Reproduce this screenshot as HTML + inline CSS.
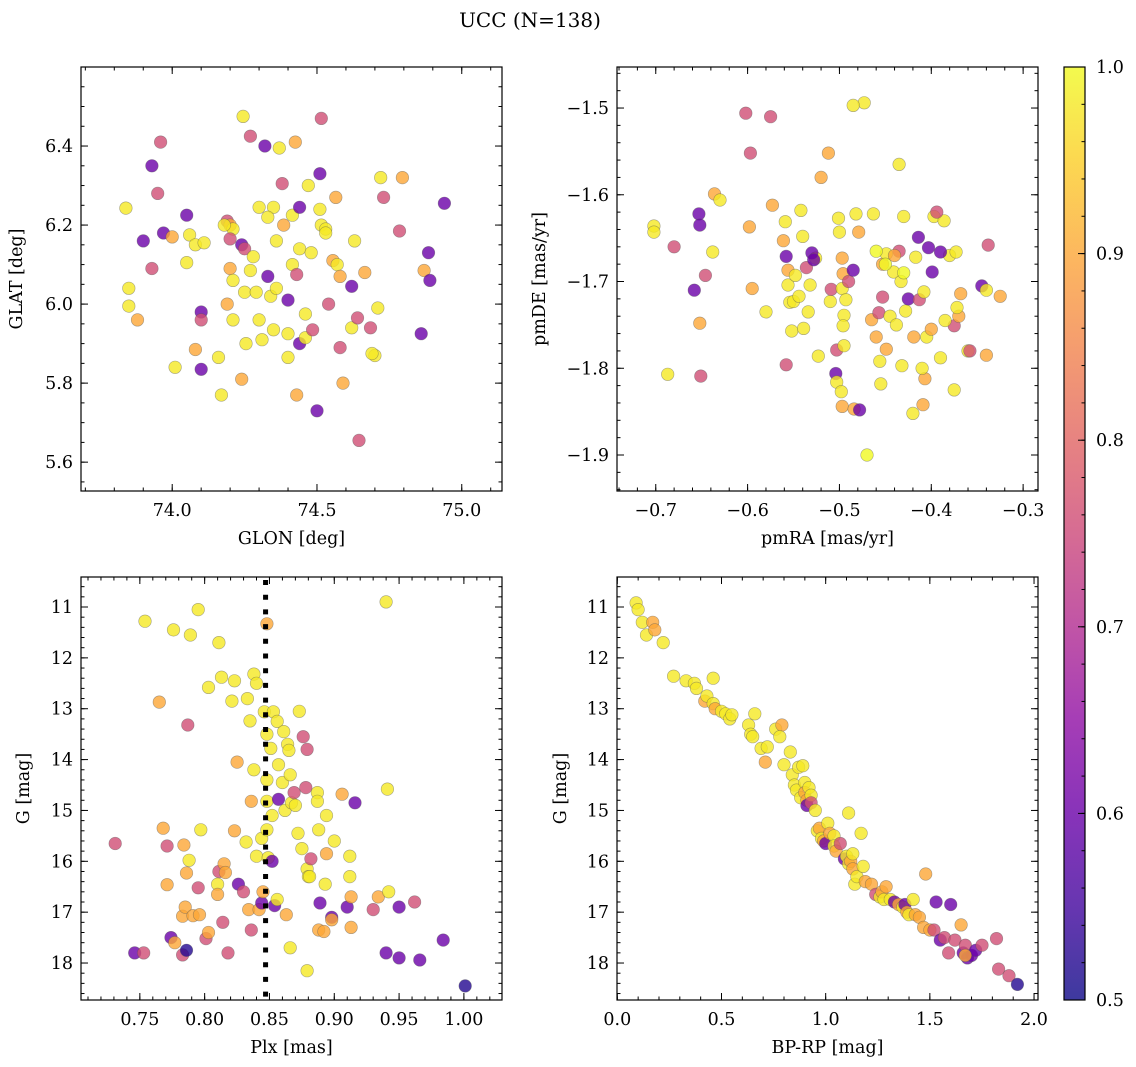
<!DOCTYPE html>
<html><head><meta charset="utf-8">
<style>
html,body{margin:0;padding:0;background:#fff;}
svg{display:block;font-family:"DejaVu Serif","Liberation Serif",serif;}
</style></head>
<body>
<svg id="fig" width="1136" height="1067" viewBox="0 0 1136 1067" xmlns="http://www.w3.org/2000/svg">
<defs>
<linearGradient id="plasma" x1="0" y1="1" x2="0" y2="0">
<stop offset="0" stop-color="#0d0887"/><stop offset="0.1" stop-color="#41049d"/><stop offset="0.2" stop-color="#6a00a8"/><stop offset="0.3" stop-color="#8f0da4"/><stop offset="0.4" stop-color="#b12a90"/><stop offset="0.5" stop-color="#cc4778"/><stop offset="0.6" stop-color="#e16462"/><stop offset="0.7" stop-color="#f2844b"/><stop offset="0.8" stop-color="#fca636"/><stop offset="0.9" stop-color="#fcce25"/><stop offset="1" stop-color="#f0f921"/>
</linearGradient>
</defs>
<text x="530" y="27" font-size="20" text-anchor="middle">UCC (N=138)</text>
<g id="root"></g>
</svg>
<script>
// probability classes: Y=yellow, O=orange, K=pink, P=purple, D=dark
const probClass = {Y:0.98, O:0.9, K:0.76, P:0.6, D:0.52};

// Panel 1: GLON / GLAT
const p1Glon = [73.84,73.85,73.85,73.88,73.9,73.93,73.93,73.95,73.96,73.97,74.0,74.01,74.05,74.05,74.06,74.08,74.08,74.1,74.1,74.1,74.11,74.16,74.17,74.19,74.19,74.2,74.21,74.2,74.2,74.21,74.21,74.24,74.24,74.245,74.25,74.25,74.255,74.27,74.27,74.28,74.29,74.3,74.31,74.32,74.33,74.34,74.35,74.35,74.36,74.37,74.38,74.385,74.4,74.4,74.4,74.415,74.415,74.425,74.43,74.43,74.44,74.44,74.44,74.46,74.48,74.46,74.47,74.485,74.5,74.51,74.515,74.51,74.515,74.53,74.54,74.555,74.57,74.58,74.59,74.62,74.62,74.63,74.64,74.645,74.665,74.685,74.7,74.72,74.73,74.785,74.795,74.86,74.87,74.885,74.89,74.94,74.565,74.69,74.71,74.58,74.33,74.3,74.18,74.53,74.36];
const p1Glat = [6.243,6.04,5.995,5.96,6.16,6.09,6.35,6.28,6.41,6.18,6.17,5.84,6.225,6.105,6.175,6.15,5.885,5.98,5.96,5.835,6.155,5.865,5.77,6.0,6.21,6.2,6.19,6.165,6.09,6.06,5.96,6.15,5.81,6.475,6.14,6.03,5.9,6.425,6.085,6.12,6.03,5.96,5.91,6.4,6.07,6.02,5.935,6.245,6.16,6.395,6.305,6.2,6.01,5.925,5.865,6.1,6.225,6.41,5.77,6.075,6.14,6.245,5.9,5.975,6.13,5.915,6.3,5.935,5.73,6.24,6.47,6.33,6.2,6.19,6.0,6.11,6.1,6.07,5.8,5.94,6.045,6.16,5.965,5.655,6.08,5.94,5.87,6.32,6.27,6.185,6.32,5.925,6.085,6.13,6.06,6.255,6.27,5.875,5.99,5.89,6.22,6.245,6.2,6.18,6.04];
const p1Class = "YYYOPKPKKPOYPYYYOPKPYYYOKOYKOYYPOYKYYKYYYYYPPYYYYYKOPYYYYOOKYPPYYYYKPYKPYYKOYOOYPYKKOKYYKKOPOPPPOYYKYYYYY";

// Panel 2: pmRA / pmDE
const p2Pmra = [-0.702,-0.702,-0.687,-0.68,-0.658,-0.653,-0.652,-0.652,-0.651,-0.646,-0.638,-0.636,-0.63,-0.602,-0.597,-0.598,-0.595,-0.58,-0.575,-0.573,-0.561,-0.559,-0.558,-0.556,-0.556,-0.554,-0.552,-0.558,-0.55,-0.548,-0.544,-0.542,-0.54,-0.536,-0.539,-0.534,-0.532,-0.523,-0.526,-0.53,-0.528,-0.52,-0.512,-0.51,-0.509,-0.503,-0.504,-0.503,-0.501,-0.5,-0.497,-0.497,-0.495,-0.496,-0.495,-0.496,-0.497,-0.498,-0.493,-0.49,-0.485,-0.484,-0.482,-0.479,-0.478,-0.473,-0.485,-0.465,-0.463,-0.46,-0.457,-0.456,-0.455,-0.453,-0.453,-0.449,-0.445,-0.449,-0.441,-0.438,-0.433,-0.432,-0.428,-0.425,-0.419,-0.417,-0.414,-0.413,-0.408,-0.407,-0.405,-0.403,-0.399,-0.397,-0.435,-0.43,-0.386,-0.375,-0.368,-0.38,-0.394,-0.39,-0.373,-0.42,-0.409,-0.37,-0.372,-0.375,-0.4,-0.39,-0.385,-0.41,-0.36,-0.358,-0.345,-0.34,-0.338,-0.34,-0.325,-0.435,-0.44,-0.43,-0.46,-0.47,-0.45];
const p2Pmde = [-1.636,-1.643,-1.807,-1.66,-1.71,-1.622,-1.635,-1.748,-1.809,-1.693,-1.666,-1.599,-1.606,-1.506,-1.552,-1.637,-1.708,-1.735,-1.51,-1.612,-1.653,-1.631,-1.671,-1.687,-1.704,-1.724,-1.757,-1.796,-1.723,-1.693,-1.717,-1.618,-1.648,-1.684,-1.754,-1.735,-1.704,-1.786,-1.673,-1.667,-1.675,-1.58,-1.552,-1.723,-1.709,-1.779,-1.806,-1.816,-1.627,-1.643,-1.673,-1.708,-1.739,-1.751,-1.774,-1.691,-1.844,-1.827,-1.721,-1.7,-1.687,-1.847,-1.622,-1.643,-1.848,-1.494,-1.497,-1.744,-1.622,-1.764,-1.736,-1.792,-1.818,-1.68,-1.718,-1.778,-1.74,-1.668,-1.689,-1.75,-1.7,-1.797,-1.734,-1.72,-1.764,-1.672,-1.649,-1.721,-1.712,-1.812,-1.764,-1.661,-1.689,-1.625,-1.565,-1.625,-1.63,-1.751,-1.714,-1.67,-1.62,-1.666,-1.666,-1.852,-1.842,-1.74,-1.73,-1.825,-1.755,-1.788,-1.745,-1.8,-1.78,-1.78,-1.705,-1.785,-1.658,-1.71,-1.717,-1.665,-1.67,-1.69,-1.665,-1.9,-1.68];
const p2Class = "YYYKPPPOKKYOYKKOOYKOOYPOYYYKYYYYYKYYYYYPPOOYKKPYYYOYYYYOOYYKPOYOPYYOYOKYYOKOYYYYYYYPOYPKYOYPPYYYYKOYKPYYOOYYOYYYYKPOKYOKO";

// Panel 3: Plx / G
const p3Plx = [0.731,0.746,0.753,0.754,0.765,0.768,0.771,0.771,0.774,0.776,0.777,0.783,0.783,0.786,0.784,0.785,0.786,0.787,0.788,0.789,0.791,0.795,0.795,0.796,0.797,0.801,0.803,0.803,0.811,0.81,0.81,0.811,0.813,0.814,0.815,0.816,0.818,0.821,0.823,0.823,0.825,0.826,0.83,0.834,0.832,0.833,0.835,0.836,0.836,0.838,0.838,0.84,0.84,0.842,0.844,0.844,0.845,0.848,0.846,0.848,0.848,0.848,0.848,0.849,0.851,0.852,0.852,0.853,0.854,0.856,0.856,0.857,0.857,0.86,0.861,0.862,0.863,0.864,0.865,0.866,0.867,0.866,0.869,0.87,0.872,0.873,0.875,0.876,0.878,0.879,0.879,0.879,0.88,0.881,0.882,0.889,0.888,0.887,0.887,0.888,0.892,0.894,0.893,0.894,0.898,0.898,0.9,0.906,0.91,0.912,0.912,0.913,0.913,0.916,0.93,0.934,0.94,0.941,0.942,0.95,0.95,0.94,0.962,0.966,0.984,1.001];
const p3G = [15.65,17.8,17.8,11.28,12.87,15.35,15.7,16.46,17.5,11.45,17.6,17.84,17.08,16.23,15.68,16.9,17.75,13.32,15.98,11.55,17.07,11.05,16.52,17.05,15.38,17.52,12.58,17.4,16.2,16.45,16.65,11.7,12.38,17.2,16.05,16.22,17.8,12.85,12.45,15.4,14.05,16.45,16.6,16.95,15.62,12.8,13.24,14.82,17.35,12.32,14.2,12.5,15.9,16.95,16.82,15.55,16.6,11.33,13.06,13.5,14.4,15.38,14.82,15.93,13.78,16.0,15.1,13.06,16.87,16.75,13.25,14.1,14.78,14.45,13.45,15.0,17.05,13.7,13.82,14.3,14.85,17.7,14.65,14.9,15.45,13.05,15.75,13.55,14.55,18.15,13.8,16.15,16.3,16.3,15.95,16.82,15.38,14.65,14.82,17.35,17.38,15.1,16.45,15.85,17.1,17.15,15.6,14.68,16.9,15.9,16.3,17.3,16.7,14.85,16.95,16.7,17.8,14.58,16.6,16.9,17.9,10.9,16.8,17.94,17.55,18.45];
const p3Class = "KPKYOOKOPYOKOOOODKYYOYKOYKYOKYOYYKOOKYYOOPKOYYYOKYYYYOPYOOYYYYYYYPYYPYYYPYYYOYYYYYKYYYYKKYKYYYKPYYYOOYYOPOYOPYYOOPKOPYYPPYKPPD";
const cutPlx = 0.847;

// Panel 4: BP-RP / G
const p4Bprp = [0.09,0.1,0.12,0.14,0.17,0.18,0.22,0.27,0.33,0.37,0.38,0.42,0.43,0.46,0.46,0.47,0.5,0.52,0.54,0.55,0.63,0.64,0.65,0.66,0.69,0.71,0.72,0.76,0.79,0.78,0.8,0.83,0.84,0.85,0.86,0.88,0.87,0.89,0.9,0.9,0.91,0.91,0.92,0.93,0.93,0.95,0.96,0.97,0.98,0.99,1.0,1.01,1.02,1.04,1.04,1.05,1.07,1.09,1.1,1.11,1.11,1.12,1.13,1.13,1.14,1.15,1.17,1.18,1.19,1.22,1.24,1.26,1.27,1.28,1.29,1.31,1.33,1.35,1.37,1.38,1.39,1.4,1.42,1.43,1.45,1.47,1.48,1.5,1.52,1.53,1.55,1.57,1.59,1.6,1.62,1.65,1.66,1.67,1.68,1.7,1.72,1.75,1.82,1.83,1.88,1.92,1.67];
const p4G = [10.92,11.05,11.3,11.55,11.3,11.45,11.7,12.36,12.45,12.5,12.6,12.85,12.75,12.9,12.4,13.0,13.05,13.1,13.2,13.12,13.32,13.5,13.55,13.1,13.78,14.05,13.75,13.4,13.32,13.55,14.1,13.85,14.3,14.5,14.6,14.75,14.15,14.12,14.45,14.65,14.8,14.9,14.55,14.7,14.85,15.0,15.4,15.35,15.55,15.6,15.65,15.25,15.45,15.5,15.7,15.8,15.65,15.95,15.9,15.05,16.05,16.0,15.85,16.15,16.45,16.3,15.45,16.1,16.4,16.45,16.65,16.7,16.6,16.75,16.5,16.75,16.8,16.85,16.9,16.85,17.0,17.05,16.75,17.05,17.1,17.3,16.25,17.35,17.35,16.8,17.55,17.5,17.8,16.85,17.55,17.25,17.8,17.65,17.9,17.85,17.75,17.65,17.52,18.12,18.25,18.42,17.85];
const p4Class = "YYYYOOYYYYYOYYYOYYYYYYYYYOYYOYYYYYYYYYYOOPYYKYYOYOPYOYYOKPYYYOYOYYYYOOKYOYOYPOYPOYYOOOOOKPPKKPKOPKPPPKKKKDO";

const NS = "http://www.w3.org/2000/svg";
const root = document.getElementById('root');
const FS = 17.5;
function mk(tag, attrs, parent) {
  const e = document.createElementNS(NS, tag);
  for (const k in attrs) e.setAttribute(k, attrs[k]);
  (parent || root).appendChild(e);
  return e;
}
const stops = [[0,"#0d0887"],[0.1,"#41049d"],[0.2,"#6a00a8"],[0.3,"#8f0da4"],[0.4,"#b12a90"],[0.5,"#cc4778"],[0.6,"#e16462"],[0.7,"#f2844b"],[0.8,"#fca636"],[0.9,"#fcce25"],[1,"#f0f921"]];
function hex(h){return [1,3,5].map(i=>parseInt(h.substr(i,2),16));}
function plasma(p) {
  let t = Math.max(0, Math.min(1, (p - 0.5) / 0.5));
  for (let i = 1; i < stops.length; i++) {
    if (t <= stops[i][0]) {
      const a = stops[i-1], b = stops[i];
      const f = (t - a[0]) / (b[0] - a[0]);
      const ca = hex(a[1]), cb = hex(b[1]);
      return 'rgb(' + ca.map((v,j)=>Math.round(v + (cb[j]-v)*f)).join(',') + ')';
    }
  }
  return stops[stops.length-1][1];
}
function fmt(v, d) { const s = Math.abs(v).toFixed(d); return (v < -1e-9 ? '\u2212' : '') + s; }

function panel(cfg) {
  const g = mk('g', {});
  
  
  const {L, R, T, B} = cfg;
  const sx = v => L + (v - cfg.xd[0]) / (cfg.xd[1] - cfg.xd[0]) * (R - L);
  const sy = v => cfg.yinv ? T + (v - cfg.yd[0]) / (cfg.yd[1] - cfg.yd[0]) * (B - T)
                           : B - (v - cfg.yd[0]) / (cfg.yd[1] - cfg.yd[0]) * (B - T);
  const pts = mk('g', {}, g);
  
  
  for (let i = 0; i < cfg.x.length; i++) {
    const c = mk('circle', {cx: sx(cfg.x[i]).toFixed(1), cy: sy(cfg.y[i]).toFixed(1), r: 6.3,
      fill: plasma(probClass[cfg.cls[i]]), 'fill-opacity': 0.8, stroke: '#555', 'stroke-opacity': 0.5, 'stroke-width': 0.6}, pts);
    
    
  }
  if (cfg.extra) cfg.extra(g, sx, sy);
  const fr = mk('rect', {x: L, y: T, width: R - L, height: B - T, fill: 'none', stroke: '#000', 'stroke-width': 1.2}, g);
  
  
  const tk = mk('g', {stroke: '#000', 'stroke-width': 1}, g);
  
  
  function ticks(min, max, step) { const a = []; const n0 = Math.ceil(min/step - 1e-6), n1 = Math.floor(max/step + 1e-6); for (let n = n0; n <= n1; n++) a.push(n*step); return a; }
  ticks(cfg.xd[0], cfg.xd[1], cfg.xminor).forEach(v => { const x = sx(v); mk('line', {x1:x, x2:x, y1:B, y2:B-3.5}, tk); mk('line', {x1:x, x2:x, y1:T, y2:T+3.5}, tk); });
  ticks(Math.min(...cfg.yd), Math.max(...cfg.yd), cfg.yminor).forEach(v => { const y = sy(v); mk('line', {x1:L, x2:L+3.5, y1:y, y2:y}, tk); mk('line', {x1:R, x2:R-3.5, y1:y, y2:y}, tk); });
  cfg.xticks.forEach(v => {
    const x = sx(v);
    mk('line', {x1:x, x2:x, y1:B, y2:B-7}, tk); mk('line', {x1:x, x2:x, y1:T, y2:T+7}, tk);
    const t = mk('text', {x: x, y: B + 25, 'font-size': FS, 'text-anchor': 'middle'}, g);
    t.textContent = fmt(v, cfg.xdec);
    
    
  });
  cfg.yticks.forEach(v => {
    const y = sy(v);
    mk('line', {x1:L, x2:L+7, y1:y, y2:y}, tk); mk('line', {x1:R, x2:R-7, y1:y, y2:y}, tk);
    const t = mk('text', {x: L - 8, y: y + 6, 'font-size': FS, 'text-anchor': 'end'}, g);
    t.textContent = fmt(v, cfg.ydec);
    
    
  });
  const xl = mk('text', {x: (L+R)/2, y: B + 53, 'font-size': FS, 'text-anchor': 'middle'}, g);
  xl.textContent = cfg.xlabel;
  
  
  const yx = cfg.ylabx, yy = (T+B)/2;
  const yl = mk('text', {x: yx, y: yy, 'font-size': FS, 'text-anchor': 'middle', transform: `rotate(-90 ${yx} ${yy})`}, g);
  yl.textContent = cfg.ylabel;
  
  
}

panel({name:'panel-glon-glat', L:81, R:502, T:67, B:491, xd:[73.685,75.139], yd:[5.527,6.6],
  x:p1Glon, y:p1Glat, cls:p1Class, xticks:[74.0,74.5,75.0], xdec:1, xminor:0.1,
  yticks:[5.6,5.8,6.0,6.2,6.4], ydec:1, yminor:0.05, xlabel:'GLON [deg]', ylabel:'GLAT [deg]', ylabx:22});
panel({name:'panel-pmra-pmde', L:617, R:1038, T:67, B:491, xd:[-0.7422,-0.2838], yd:[-1.9415,-1.4527],
  x:p2Pmra, y:p2Pmde, cls:p2Class, xticks:[-0.7,-0.6,-0.5,-0.4,-0.3], xdec:1, xminor:0.02,
  yticks:[-1.9,-1.8,-1.7,-1.6,-1.5], ydec:1, yminor:0.02, xlabel:'pmRA [mas/yr]', ylabel:'pmDE [mas/yr]', ylabx:545});
panel({name:'panel-plx-g', L:81, R:502, T:577, B:1000, xd:[0.7046,1.0294], yd:[10.41,18.727], yinv:true,
  x:p3Plx, y:p3G, cls:p3Class, xticks:[0.75,0.8,0.85,0.9,0.95,1.0], xdec:2, xminor:0.01,
  yticks:[11,12,13,14,15,16,17,18], ydec:0, yminor:0.2, xlabel:'Plx [mas]', ylabel:'G [mag]', ylabx:29,
  extra:(g, sx, sy) => {
    const l = mk('line', {x1: sx(cutPlx), x2: sx(cutPlx), y1: 580, y2: 1000, stroke: '#000', 'stroke-width': 5, 'stroke-dasharray': '5 9.7'}, g);
    
    
  }});
panel({name:'panel-color-magnitude', L:617, R:1038, T:577, B:1000, xd:[-0.0015,2.019], yd:[10.41,18.727], yinv:true,
  x:p4Bprp, y:p4G, cls:p4Class, xticks:[0,0.5,1.0,1.5,2.0], xdec:1, xminor:0.1,
  yticks:[11,12,13,14,15,16,17,18], ydec:0, yminor:0.2, xlabel:'BP-RP [mag]', ylabel:'G [mag]', ylabx:566});

// colorbar
const cbTicks = [0.5,0.6,0.7,0.8,0.9,1.0];
const cb = mk('g', {});


const cL = 1064, cR = 1085, cT = 67, cB = 1000;
mk('rect', {x:cL, y:cT, width:cR-cL, height:cB-cT, fill:'url(#plasma)', opacity:0.8}, cb);
mk('rect', {x:cL, y:cT, width:cR-cL, height:cB-cT, fill:'none', stroke:'#000', 'stroke-width':1.2}, cb);
const cy = v => cB - (v - 0.5) / 0.5 * (cB - cT);
for (let n = 25; n <= 50; n++) { const v = n * 0.02; const y = cy(v); mk('line', {x1:cR, x2:cR-3.5, y1:y, y2:y, stroke:'#000'}, cb); }
cbTicks.forEach(v => {
  const y = cy(v);
  mk('line', {x1:cR, x2:cR-7, y1:y, y2:y, stroke:'#000'}, cb);
  const t = mk('text', {x: 1096, y: y + 6, 'font-size': FS}, cb);
  t.textContent = v.toFixed(1);
  
  
});
</script>
</body></html>
